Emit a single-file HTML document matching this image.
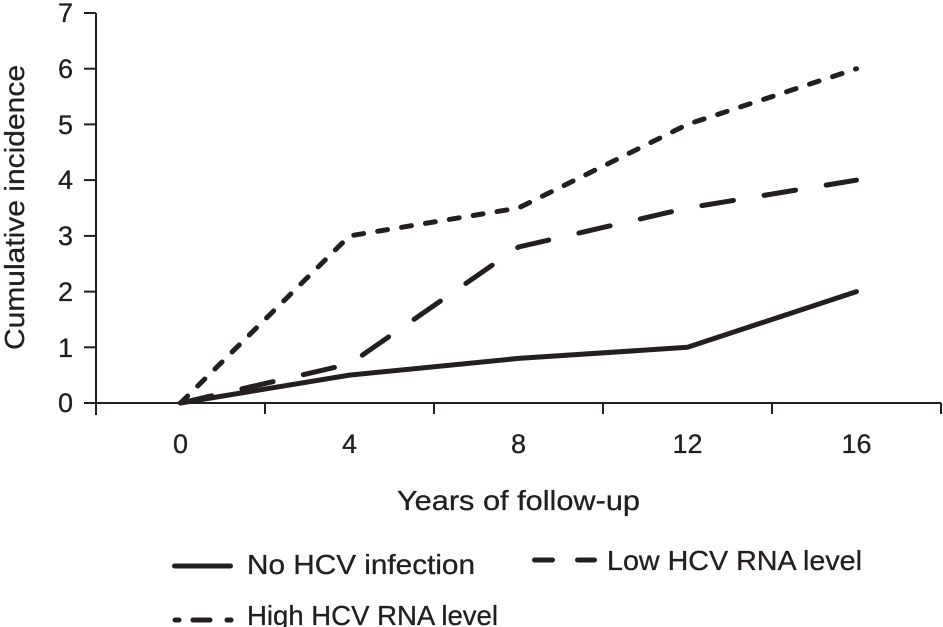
<!DOCTYPE html>
<html>
<head>
<meta charset="utf-8">
<style>
  html,body{margin:0;padding:0;background:#fff;}
  svg{display:block;}
  text{font-family:"Liberation Sans",Arial,sans-serif;fill:#231f20;}
</style>
</head>
<body>
<svg width="943" height="627" viewBox="0 0 943 627" xmlns="http://www.w3.org/2000/svg">
  <!-- axes -->
  <g stroke="#231f20" stroke-width="2" fill="none">
    <line x1="96" y1="13" x2="96" y2="415"/>
    <line x1="84" y1="403" x2="941" y2="403"/>
    <line x1="84" y1="13" x2="96" y2="13"/>
    <line x1="84" y1="68.7" x2="96" y2="68.7"/>
    <line x1="84" y1="124.4" x2="96" y2="124.4"/>
    <line x1="84" y1="180.1" x2="96" y2="180.1"/>
    <line x1="84" y1="235.9" x2="96" y2="235.9"/>
    <line x1="84" y1="291.6" x2="96" y2="291.6"/>
    <line x1="84" y1="347.3" x2="96" y2="347.3"/>
    <line x1="265" y1="403" x2="265" y2="414"/>
    <line x1="434" y1="403" x2="434" y2="414"/>
    <line x1="603" y1="403" x2="603" y2="414"/>
    <line x1="772" y1="403" x2="772" y2="414"/>
    <line x1="941" y1="403" x2="941" y2="414"/>
  </g>

  <!-- y tick labels -->
  <g font-size="27" text-anchor="end" stroke="#231f20" stroke-width="0.3">
    <text x="73" y="22">7</text>
    <text x="73" y="78">6</text>
    <text x="73" y="134">5</text>
    <text x="73" y="189">4</text>
    <text x="73" y="245">3</text>
    <text x="73" y="301">2</text>
    <text x="73" y="357">1</text>
    <text x="73" y="412">0</text>
  </g>

  <!-- x tick labels -->
  <g font-size="27" text-anchor="middle" stroke="#231f20" stroke-width="0.3">
    <text x="180.5" y="453">0</text>
    <text x="349.5" y="453">4</text>
    <text x="518.5" y="453">8</text>
    <text x="687.5" y="453">12</text>
    <text x="856.5" y="453">16</text>
  </g>

  <!-- axis titles -->
  <g stroke="#231f20" stroke-width="0.3">
  <text x="397" y="510" font-size="28" textLength="243" lengthAdjust="spacingAndGlyphs">Years of follow-up</text>
  <text transform="translate(24,350) rotate(-90)" x="0" y="0" font-size="28" textLength="285" lengthAdjust="spacingAndGlyphs">Cumulative incidence</text>
  </g>

  <!-- series -->
  <g fill="none" stroke="#231f20" stroke-width="5" stroke-linecap="round" stroke-linejoin="round">
    <polyline points="180.5,403 349.5,375.1 518.5,358.4 687.5,347.3 856.5,291.6"/>
    <polyline points="180.5,403 349.5,364 518.5,247 687.5,208 856.5,180.1" stroke-dasharray="32 31"/>
    <polyline points="180.5,403 349.5,235.9 518.5,208 687.5,124.4 856.5,68.7" stroke-dasharray="10 14.2"/>
  </g>

  <!-- legend -->
  <g fill="none" stroke="#231f20" stroke-width="5" stroke-linecap="round">
    <line x1="174.5" y1="566" x2="230.5" y2="566"/>
    <line x1="534.5" y1="560" x2="552.5" y2="560"/>
    <line x1="577.5" y1="560" x2="594.5" y2="560"/>
    <line x1="175" y1="620" x2="179" y2="620"/>
    <line x1="193" y1="620" x2="210" y2="620"/>
    <line x1="227" y1="620" x2="231" y2="620"/>
  </g>
  <g font-size="28" stroke="#231f20" stroke-width="0.3">
    <text x="247" y="574" textLength="228" lengthAdjust="spacingAndGlyphs">No HCV infection</text>
    <text x="607" y="570" textLength="255" lengthAdjust="spacingAndGlyphs">Low HCV RNA level</text>
    <text x="247" y="625" textLength="251" lengthAdjust="spacingAndGlyphs">High HCV RNA level</text>
  </g>
</svg>
</body>
</html>
